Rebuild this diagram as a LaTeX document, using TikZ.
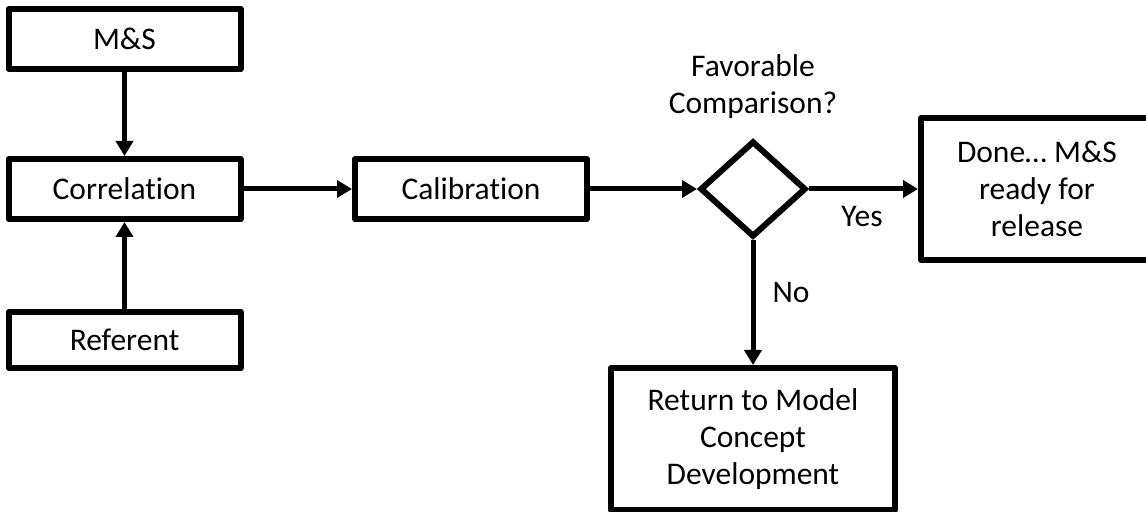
\documentclass[tikz,border=0pt]{standalone}
\usepackage{fontspec}
\setmainfont{Carlito}[Ligatures=NoCommon]
\usetikzlibrary{arrows.meta,shapes.geometric}

\begin{document}
\begin{tikzpicture}[x=.5pt,y=-.5pt,
  txt/.style={font=\fontsize{15.75}{18.5}\selectfont,align=center},
  box/.style={txt,draw,line width=3pt,line join=round,inner sep=0pt,minimum width=116pt,minimum height=30pt},
  tallbox/.style={box,minimum height=71pt},
  decision/.style={draw,diamond,line width=3pt,inner sep=0pt,minimum width=53pt,minimum height=48pt},
  flow/.style={line width=2.5pt,-{Triangle[length=7.5pt,width=8.5pt]}}]

\useasboundingbox (0,0) rectangle (1146,512);

\node[box] (ms) at (124.5,39) {M\&S};
\node[box] (corr) at (124.5,189) {Correlation};
\node[box,minimum height=28pt] (ref) at (124.5,340) {Referent};
\node[box] (calib) at (471,189) {Calibration};
\node[decision] (dec) at (753,189) {};
\node[tallbox] (done) at (1037,189) {Done\ldots\ M\&S\\ready for\\release};
\node[tallbox,minimum width=142pt] (ret) at (753,439) {Return to Model\\Concept\\Development};

\node[txt] (question) at (753,87) {Favorable\\Comparison?};
\node[txt] (yes) at (862,217) {Yes};
\node[txt] (no) at (791,293) {No};

\draw[flow] (ms) -- (corr);
\draw[flow] (ref) -- (corr);
\draw[flow] (corr) -- (calib);
\draw[flow] (calib) -- (dec);
\draw[flow] (dec) -- (done);
\draw[flow] (dec) -- (ret);

\end{tikzpicture}
\end{document}
